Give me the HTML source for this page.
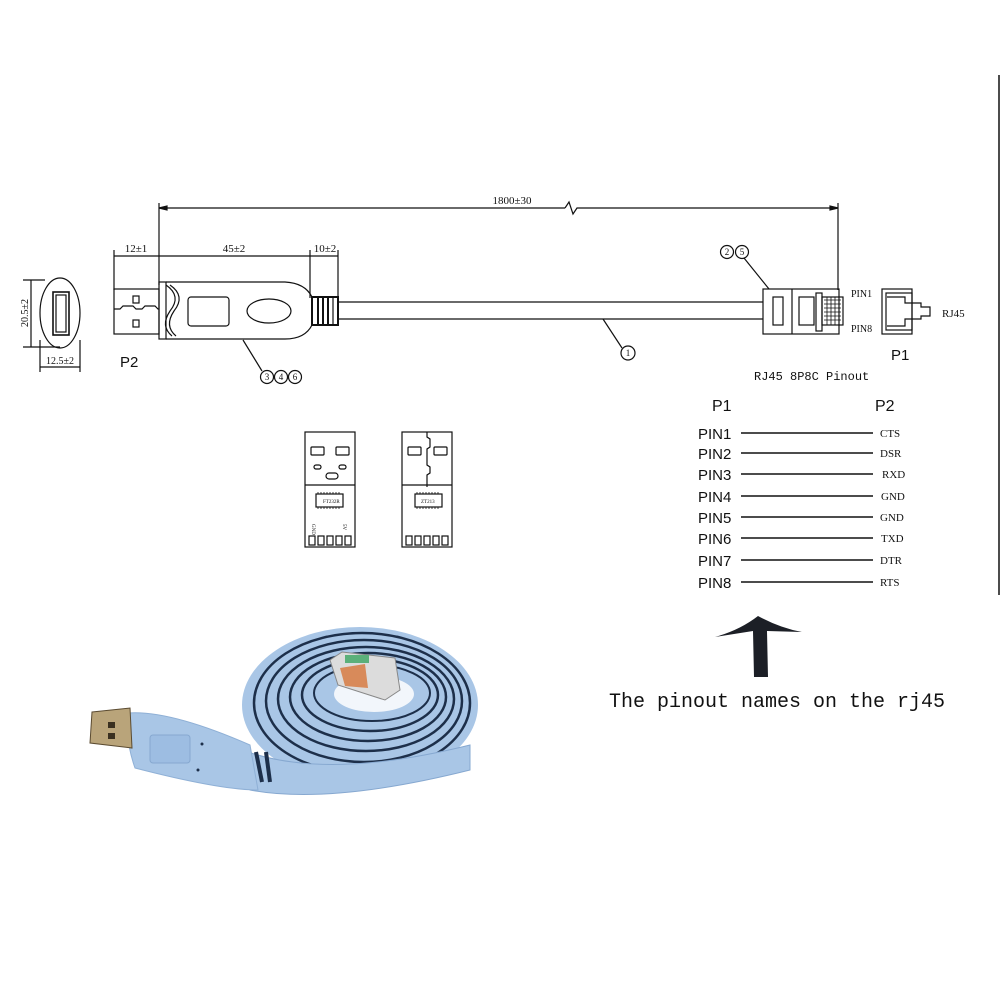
<!DOCTYPE html>
<html><head><meta charset="utf-8"><style>
html,body{margin:0;padding:0;background:#fff}
svg{display:block}
.s{font-family:"Liberation Serif",serif;fill:#111}
.a{font-family:"Liberation Sans",sans-serif;fill:#111}
</style></head><body>
<svg width="1001" height="1001" viewBox="0 0 1001 1001" xmlns="http://www.w3.org/2000/svg">
<rect width="1001" height="1001" fill="#fff"/>
<g stroke="#111" fill="none" stroke-width="1.2">
<line x1="999" y1="75" x2="999" y2="595" stroke-width="1.5"/>
<line x1="159" y1="208" x2="565" y2="208"/><path d="M565 208 L569 202 L573 214 L577 208 L838 208"/>
<path d="M159 208 l8 -2 v4z M838 208 l-8 -2 v4z" fill="#111"/>
<line x1="159" y1="203" x2="159" y2="285"/>
<line x1="838" y1="203" x2="838" y2="290"/>
<line x1="114" y1="250" x2="114" y2="290"/>
<line x1="310" y1="250" x2="310" y2="298"/>
<line x1="338" y1="250" x2="338" y2="298"/>
<line x1="114" y1="256" x2="338" y2="256"/>
<rect x="114" y="289" width="45" height="45"/>
<path d="M114 309 h6 l3 -3 h10 l3 3 h6 l3 -3 h10 l3 3 h1"/>
<rect x="133" y="296" width="6" height="7"/><rect x="133" y="320" width="6" height="7"/>
<rect x="159" y="282" width="7" height="57"/>
<path d="M166 282 H285 Q305 283 312 297 L312 325 Q305 339 285 339 H166"/>
<path d="M166 285 Q182 296 170 311 Q160 326 172 336"/>
<path d="M170 285 Q186 296 174 311 Q164 326 176 336"/>
<rect x="188" y="297" width="41" height="29" rx="3"/>
<ellipse cx="269" cy="311" rx="22" ry="12"/>
<rect x="312" y="297" width="26" height="28" fill="#fff" stroke-width="2"/>
<line x1="318" y1="297" x2="318" y2="325" stroke-width="2"/><line x1="323" y1="297" x2="323" y2="325" stroke-width="2"/><line x1="328" y1="297" x2="328" y2="325" stroke-width="2"/><line x1="333" y1="297" x2="333" y2="325"/>
<line x1="338" y1="302" x2="763" y2="302"/><line x1="338" y1="319" x2="763" y2="319"/>
<line x1="243" y1="340" x2="262" y2="371"/>
<line x1="603" y1="319" x2="622" y2="348"/>
<line x1="744" y1="258" x2="769" y2="289"/>
<rect x="763" y="289" width="76" height="45"/>
<line x1="792" y1="289" x2="792" y2="334"/>
<rect x="773" y="297" width="10" height="28"/>
<rect x="799" y="297" width="15" height="28"/>
<rect x="816" y="293" width="6" height="38"/>
<rect x="822" y="297" width="21" height="28"/>
<path d="M824 300 h17 M824 304 h17 M824 308 h17 M824 312 h17 M824 316 h17 M824 320 h17 M827 297 v28 M831 297 v28 M835 297 v28 M839 297 v28" stroke-width="0.8"/>
<rect x="882" y="289" width="30" height="45"/>
<rect x="886" y="293" width="26" height="37"/>
<path d="M887 297 H905 V303 H921 V307 H930 V316 H921 V319 H905 V326 H887"/>
<ellipse cx="60" cy="313" rx="20" ry="35"/>
<rect x="53" y="292" width="16" height="43" stroke-width="1.6"/>
<rect x="56" y="295" width="10" height="37"/>
<line x1="23" y1="280" x2="45" y2="280"/><line x1="23" y1="347" x2="60" y2="347"/>
<line x1="31" y1="280" x2="31" y2="347"/>
<line x1="40" y1="340" x2="40" y2="372"/><line x1="80" y1="340" x2="80" y2="372"/>
<line x1="40" y1="367" x2="80" y2="367"/>
<circle cx="267" cy="377" r="6.5"/><circle cx="281" cy="377" r="6.5"/><circle cx="295" cy="377" r="6.5"/>
<circle cx="628" cy="353" r="7"/>
<circle cx="727" cy="252" r="6.5"/><circle cx="742" cy="252" r="6.5"/>
<rect x="305" y="432" width="50" height="115"/>
<line x1="305" y1="485" x2="355" y2="485"/>
<rect x="311" y="447" width="13" height="8" rx="1"/><rect x="336" y="447" width="13" height="8" rx="1"/>
<rect x="314" y="465" width="7" height="4" rx="2"/><rect x="339" y="465" width="7" height="4" rx="2"/>
<rect x="326" y="473" width="12" height="6" rx="3"/>
<rect x="316" y="494" width="27" height="13"/>
<path d="M318 494 v-2 M321 494 v-2 M324 494 v-2 M327 494 v-2 M330 494 v-2 M333 494 v-2 M336 494 v-2 M339 494 v-2 M318 507 v2 M321 507 v2 M324 507 v2 M327 507 v2 M330 507 v2 M333 507 v2 M336 507 v2 M339 507 v2" stroke-width="0.8"/>
<rect x="309" y="536" width="6" height="9"/><rect x="318" y="536" width="6" height="9"/><rect x="327" y="536" width="6" height="9"/><rect x="336" y="536" width="6" height="9"/><rect x="345" y="536" width="6" height="9"/>
<rect x="402" y="432" width="50" height="115"/>
<line x1="402" y1="485" x2="452" y2="485"/>
<path d="M427 432 v5 l3 2 v8 l-3 2 v16 l3 2 v6 l-3 2 v12"/>
<rect x="408" y="447" width="13" height="8" rx="1"/><rect x="434" y="447" width="13" height="8" rx="1"/>
<rect x="415" y="494" width="27" height="13"/>
<path d="M417 494 v-2 M420 494 v-2 M423 494 v-2 M426 494 v-2 M429 494 v-2 M432 494 v-2 M435 494 v-2 M438 494 v-2 M417 507 v2 M420 507 v2 M423 507 v2 M426 507 v2 M429 507 v2 M432 507 v2 M435 507 v2 M438 507 v2" stroke-width="0.8"/>
<rect x="406" y="536" width="6" height="9"/><rect x="415" y="536" width="6" height="9"/><rect x="424" y="536" width="6" height="9"/><rect x="433" y="536" width="6" height="9"/><rect x="442" y="536" width="6" height="9"/>
<g stroke-width="1.5">
<line x1="741" y1="433" x2="873" y2="433"/><line x1="741" y1="453" x2="873" y2="453"/>
<line x1="741" y1="474" x2="873" y2="474"/><line x1="741" y1="496" x2="873" y2="496"/>
<line x1="741" y1="517" x2="873" y2="517"/><line x1="741" y1="538" x2="873" y2="538"/>
<line x1="741" y1="560" x2="873" y2="560"/><line x1="741" y1="582" x2="873" y2="582"/>
</g>
</g>
<path d="M758 616 Q740 630 715 637 L753 631 L754 677 L768 677 L767 631 L802 632 Q780 628 758 616Z" fill="#1c1f26"/>
<text x="512" y="204" class="s" font-size="11" text-anchor="middle">1800±30</text>
<text x="136" y="252" class="s" font-size="11" text-anchor="middle">12±1</text>
<text x="234" y="252" class="s" font-size="11" text-anchor="middle">45±2</text>
<text x="325" y="252" class="s" font-size="11" text-anchor="middle">10±2</text>
<text x="28" y="313" class="s" font-size="10" text-anchor="middle" transform="rotate(-90 28 313)">20.5±2</text>
<text x="60" y="364" class="s" font-size="10" text-anchor="middle">12.5±2</text>
<text x="120" y="367" class="a" font-size="15">P2</text>
<text x="891" y="360" class="a" font-size="15">P1</text>
<g class="s" font-size="9" text-anchor="middle">
<text x="267" y="380">3</text><text x="281" y="380">4</text><text x="295" y="380">6</text>
<text x="628" y="356">1</text><text x="727" y="255">2</text><text x="742" y="255">5</text>
</g>
<text x="851" y="297" class="s" font-size="10">PIN1</text>
<text x="851" y="332" class="s" font-size="10">PIN8</text>
<text x="942" y="317" class="s" font-size="11">RJ45</text>
<text x="754" y="380" class="s" font-size="12" style="font-family:'Liberation Mono',monospace">RJ45 8P8C Pinout</text>
<text x="712" y="411" class="a" font-size="16">P1</text>
<text x="875" y="411" class="a" font-size="16">P2</text>
<g class="a" font-size="15">
<text x="698" y="439">PIN1</text><text x="698" y="459">PIN2</text><text x="698" y="480">PIN3</text><text x="698" y="502">PIN4</text>
<text x="698" y="523">PIN5</text><text x="698" y="544">PIN6</text><text x="698" y="566">PIN7</text><text x="698" y="588">PIN8</text>
</g>
<g class="s" font-size="11">
<text x="880" y="437">CTS</text><text x="880" y="457">DSR</text><text x="882" y="478">RXD</text><text x="881" y="500">GND</text>
<text x="880" y="521">GND</text><text x="881" y="542">TXD</text><text x="880" y="564">DTR</text><text x="880" y="586">RTS</text>
</g>
<g class="s" font-size="5" fill="#333">
<text x="323" y="503">FT232R</text><text x="421" y="503">ZT213</text>
<text x="312" y="524" transform="rotate(90 312 524)">GND</text><text x="343" y="524" transform="rotate(90 343 524)">5V</text>
</g>
<text x="609" y="707" font-family="'Liberation Mono',monospace" font-size="20" fill="#111">The pinout names on the rj45</text>
<!-- photo -->
<ellipse cx="360" cy="705" rx="118" ry="78" fill="#a9c6e6"/>
<g fill="none" stroke="#1d2f4a" stroke-width="2.5">
<ellipse cx="362" cy="703" rx="108" ry="70"/>
<ellipse cx="364" cy="701" rx="98" ry="61"/>
<ellipse cx="366" cy="699" rx="88" ry="52"/>
<ellipse cx="368" cy="697" rx="78" ry="44"/>
<ellipse cx="370" cy="695" rx="68" ry="36"/>
</g>
<ellipse cx="372" cy="693" rx="58" ry="28" fill="#a9c6e6" stroke="#1d2f4a" stroke-width="2"/>
<ellipse cx="374" cy="694" rx="40" ry="18" fill="#f2f6fb"/>
<path d="M330 660 L342 652 L395 658 L400 690 L385 700 L338 685Z" fill="#dcdcdc" stroke="#888"/>
<path d="M340 668 L365 664 L368 688 L345 686Z" fill="#d88a5a"/>
<rect x="345" y="655" width="24" height="8" fill="#5bb07a"/>
<path d="M248 752 Q330 780 470 745 L470 770 Q330 805 250 790Z" fill="#a9c6e6" stroke="#86a8d0"/>
<path d="M128 713 Q170 710 250 745 L258 790 Q220 790 135 768 Q125 740 128 713Z" fill="#a9c6e6" stroke="#8fb0d6"/>
<rect x="150" y="735" width="40" height="28" rx="3" fill="#9dbde2" stroke="#86a8d0"/>
<circle cx="202" cy="744" r="1.5" fill="#1d2f4a"/><circle cx="198" cy="770" r="1.5" fill="#1d2f4a"/>
<g stroke="#1d2f4a" stroke-width="4"><line x1="256" y1="752" x2="262" y2="782"/><line x1="266" y1="752" x2="270" y2="782"/></g>
<path d="M92 712 L130 708 L132 748 L90 743Z" fill="#b9a47a" stroke="#5a4a30"/>
<rect x="108" y="722" width="7" height="6" fill="#3a3020"/><rect x="108" y="733" width="7" height="6" fill="#3a3020"/>
</svg>
</body></html>
